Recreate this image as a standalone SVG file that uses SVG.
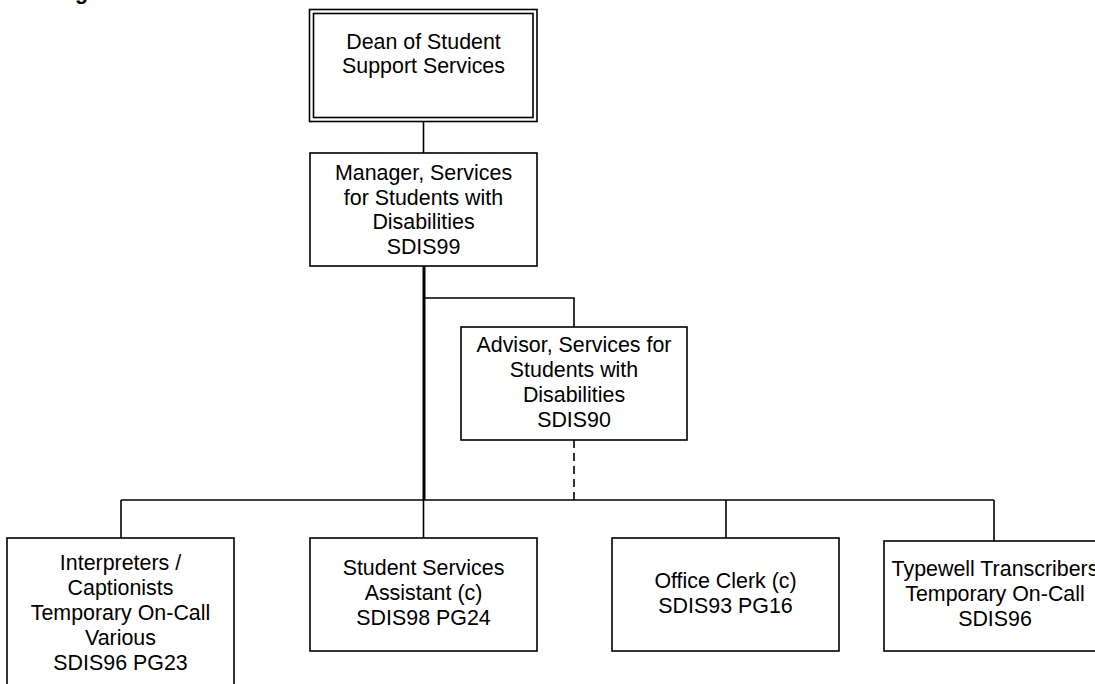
<svg xmlns="http://www.w3.org/2000/svg" width="1095" height="684" viewBox="0 0 1095 684">
<style>
.box{fill:#fff;stroke:#000;stroke-width:1.6}
.ln{fill:none;stroke:#000;stroke-width:1.6}
.thick{fill:none;stroke:#000;stroke-width:3}
.dash{fill:none;stroke:#000;stroke-width:1.6;stroke-dasharray:8 5}
text{font-family:"Liberation Sans",Arial,sans-serif;font-size:21.4px;fill:#000;text-anchor:middle}
</style>
<rect width="1095" height="684" fill="#fff"/>
<text x="75" y="-1" style="font-weight:bold;text-anchor:start">g</text>
<g id="connectors">
<path class="ln" d="M423.5 121.5V153"/>
<path class="thick" d="M424 266V500"/>
<path class="ln" d="M424 298H574V327"/>
<path class="dash" d="M574 440V500"/>
<path class="ln" d="M121 500H994"/>
<path class="ln" d="M121 500V538"/>
<path class="ln" d="M423.5 500V538"/>
<path class="ln" d="M726 500V538"/>
<path class="ln" d="M994 500V541"/>
</g>
<g id="dean">
<rect class="box" x="309.5" y="9.5" width="227.5" height="112"/>
<rect class="box" x="313.5" y="13.5" width="219.5" height="104"/>
<text x="423.5" y="49">Dean of Student</text>
<text x="423.5" y="73">Support Services</text>
</g>
<g id="manager">
<rect class="box" x="310" y="153" width="227" height="113"/>
<text x="423.5" y="180">Manager, Services</text>
<text x="423.5" y="204.5">for Students with</text>
<text x="423.5" y="229">Disabilities</text>
<text x="423.5" y="253.5">SDIS99</text>
</g>
<g id="advisor">
<rect class="box" x="461" y="327" width="226" height="113"/>
<text x="574" y="352">Advisor, Services for</text>
<text x="574" y="377">Students with</text>
<text x="574" y="402">Disabilities</text>
<text x="574" y="427">SDIS90</text>
</g>
<g id="interpreters">
<rect class="box" x="7" y="538" width="227" height="160"/>
<text x="120.5" y="570">Interpreters /</text>
<text x="120.5" y="595">Captionists</text>
<text x="120.5" y="620">Temporary On-Call</text>
<text x="120.5" y="645">Various</text>
<text x="120.5" y="670">SDIS96 PG23</text>
</g>
<g id="assistant">
<rect class="box" x="310" y="538" width="227" height="113"/>
<text x="423.5" y="575">Student Services</text>
<text x="423.5" y="600">Assistant (c)</text>
<text x="423.5" y="625">SDIS98 PG24</text>
</g>
<g id="clerk">
<rect class="box" x="612" y="538" width="227" height="113"/>
<text x="725.5" y="588">Office Clerk (c)</text>
<text x="725.5" y="613">SDIS93 PG16</text>
</g>
<g id="typewell">
<rect class="box" x="884" y="541" width="227" height="110"/>
<text x="995" y="576">Typewell Transcribers</text>
<text x="995" y="601">Temporary On-Call</text>
<text x="995" y="626">SDIS96</text>
</g>
</svg>
